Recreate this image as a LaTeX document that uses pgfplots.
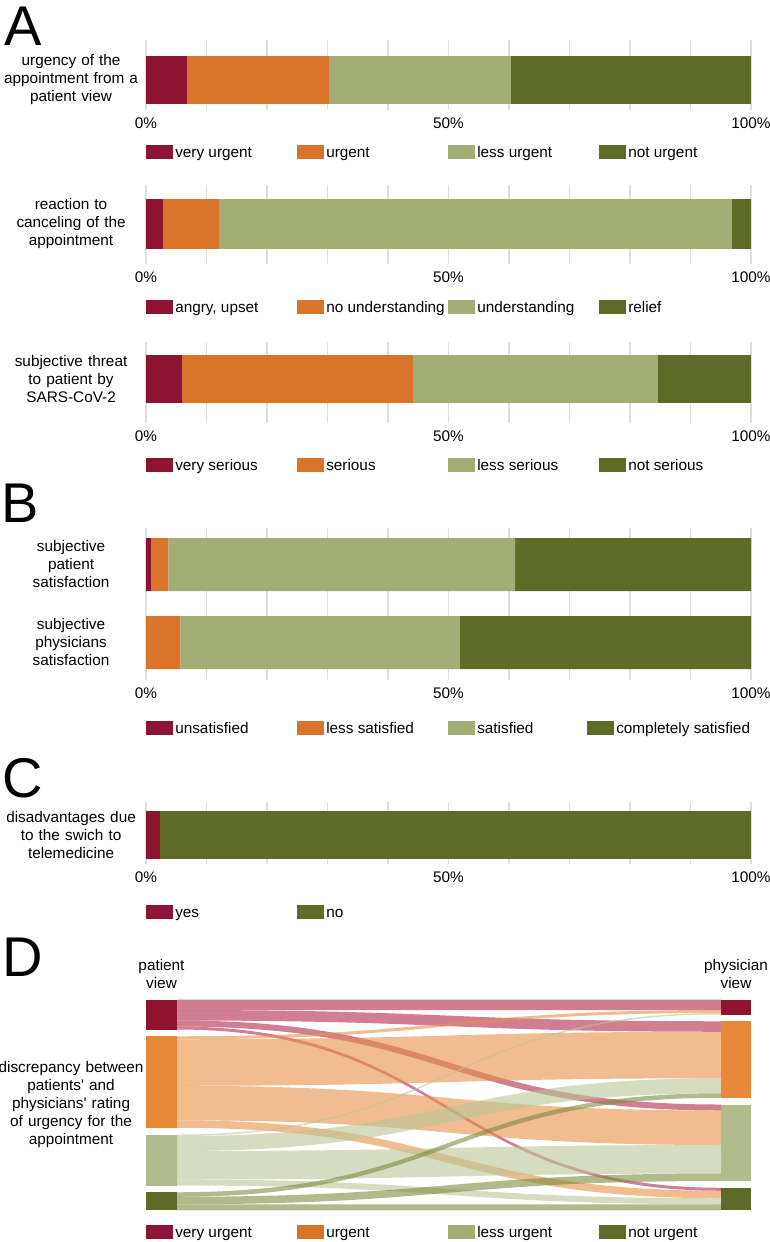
\documentclass[border=0pt]{standalone}
\usepackage{fontspec}
\setmainfont{Liberation Sans}
\usepackage{pgfplots}
\pgfplotsset{compat=1.18}

% bar colours
\definecolor{cvu}{RGB}{140,20,50}
\definecolor{cur}{RGB}{216,117,43}
\definecolor{clu}{RGB}{163,174,119}
\definecolor{cnu}{RGB}{93,107,39}
% alluvial nodes
\definecolor{dvu}{RGB}{142,20,48}
\definecolor{dur}{RGB}{232,137,58}
\definecolor{dlu}{RGB}{176,188,142}
\definecolor{dnu}{RGB}{92,107,38}
% alluvial flows (drawn with opacity)
\definecolor{fvu}{RGB}{180,40,73}
\definecolor{fur}{RGB}{230,143,70}
\definecolor{flu}{RGB}{185,197,150}
\definecolor{fnu}{RGB}{123,140,63}

\newcommand{\txt}{\fontsize{11.5}{13.5}\selectfont}
\newcommand{\lgd}[2][90pt]{\makebox[#1][l]{\strut #2}}
% flow band: colour, left top, left bottom, right top, right bottom
\newcommand{\flow}[5]{%
  \fill[#1, fill opacity=0.6] (axis cs:177,#2) .. controls (axis cs:449,#2) and (axis cs:449,#4) .. (axis cs:721,#4)
    -- (axis cs:721,#5) .. controls (axis cs:449,#5) and (axis cs:449,#3) .. (axis cs:177,#3) -- cycle;}

\pgfplotsset{
  sq/.style={legend image code/.code={\fill[##1] (0pt,-5.25pt) rectangle (20.25pt,5.25pt);}},
  common/.style={
    scale only axis, width=453.75pt, anchor=north west, y dir=reverse,
    axis line style={draw=none}, tick style={draw=none},
    tick label style={font=\txt},
    yticklabel style={anchor=east, align=center, text width=110pt, inner sep=0pt, xshift=-1pt},
    legend columns=4, legend cell align=left,
    legend image code/.code={\fill[##1] (0pt,-5.25pt) rectangle (20.25pt,5.25pt);},
    legend style={draw=none, fill=none, inner sep=0pt, anchor=west, font=\txt,
      nodes={inner sep=1.5pt}, /tikz/every even column/.append style={column sep=0pt}},
    every axis plot/.append style={draw=none},
  },
  panel/.style={
    common, xmin=0, xmax=100, xbar stacked,
    xtick={0,10,...,100}, xticklabels={0\%,,,,,50\%,,,,,100\%},
    xmajorgrids, major grid style={draw=black!13, line width=1.1pt},
    xticklabel style={anchor=center, yshift=-9.75pt, inner sep=0pt},
  },
}

\begin{document}
\begin{tikzpicture}[font=\txt]
\useasboundingbox (0pt,0pt) rectangle (577.5pt,-931.5pt);

\node[anchor=base west, inner sep=0pt, font=\fontsize{42}{42}\selectfont] at (3pt,-33.75pt) {A};
\node[anchor=base west, inner sep=0pt, font=\fontsize{42}{42}\selectfont] at (1pt,-391.5pt) {B};
\node[anchor=base west, inner sep=0pt, font=\fontsize{42}{42}\selectfont] at (2pt,-597.75pt) {C};
\node[anchor=base west, inner sep=0pt, font=\fontsize{42}{42}\selectfont] at (2pt,-732pt) {D};

% A1 urgency from patient view
\begin{axis}[panel, at={(109.5pt,-30pt)}, height=52.5pt,
  ymin=40, ymax=110, bar width=48, ytick={80},
  yticklabels={{urgency of the\\appointment from a\\patient view}},
  legend style={at={(axis cs:0,152)}}]
\addplot[fill=cvu, sq] coordinates {(6.7,80)}; \addlegendentry{\lgd{very urgent}}
\addplot[fill=cur, sq] coordinates {(23.6,80)}; \addlegendentry{\lgd{urgent}}
\addplot[fill=clu, sq] coordinates {(30.1,80)}; \addlegendentry{\lgd{less urgent}}
\addplot[fill=cnu, sq] coordinates {(39.6,80)}; \addlegendentry{\lgd{not urgent}}
\end{axis}

% A2 reaction to cancelling
\begin{axis}[panel, at={(109.5pt,-138.75pt)}, height=59.25pt,
  ymin=185, ymax=264, bar width=50, ytick={224},
  yticklabels={{reaction to\\canceling of the\\appointment}},
  legend style={at={(axis cs:0,307)}}]
\addplot[fill=cvu, sq] coordinates {(2.8,224)}; \addlegendentry{\lgd{angry, upset}}
\addplot[fill=cur, sq] coordinates {(9.3,224)}; \addlegendentry{\lgd{no understanding}}
\addplot[fill=clu, sq] coordinates {(84.8,224)}; \addlegendentry{\lgd{understanding}}
\addplot[fill=cnu, sq] coordinates {(3.1,224)}; \addlegendentry{\lgd{relief}}
\end{axis}

% A3 threat by SARS-CoV-2
\begin{axis}[panel, at={(109.5pt,-256.5pt)}, height=60.75pt,
  ymin=342, ymax=423, bar width=48, ytick={379},
  yticklabels={{subjective threat\\to patient by\\SARS-CoV-2}},
  legend style={at={(axis cs:0,465)}}]
\addplot[fill=cvu, sq] coordinates {(6.0,379)}; \addlegendentry{\lgd{very serious}}
\addplot[fill=cur, sq] coordinates {(38.2,379)}; \addlegendentry{\lgd{serious}}
\addplot[fill=clu, sq] coordinates {(40.5,379)}; \addlegendentry{\lgd{less serious}}
\addplot[fill=cnu, sq] coordinates {(15.3,379)}; \addlegendentry{\lgd{not serious}}
\end{axis}

% B satisfaction
\begin{axis}[panel, at={(109.5pt,-396pt)}, height=114pt,
  ymin=528, ymax=680, bar width=53, ytick={564.5,642.5},
  yticklabels={{subjective\\patient\\satisfaction},{subjective\\physicians\\satisfaction}},
  legend style={at={(axis cs:0,728)}}]
\addplot[fill=cvu, sq] coordinates {(0.8,564.5) (0,642.5)}; \addlegendentry{\lgd{unsatisfied}}
\addplot[fill=cur, sq] coordinates {(2.9,564.5) (5.7,642.5)}; \addlegendentry{\lgd{less satisfied}}
\addplot[fill=clu, sq] coordinates {(57.3,564.5) (46.2,642.5)}; \addlegendentry{\lgd[81pt]{satisfied}}
\addplot[fill=cnu, sq] coordinates {(39.0,564.5) (48.1,642.5)}; \addlegendentry{\lgd{completely satisfied}}
\end{axis}

% C disadvantages
\begin{axis}[panel, at={(109.5pt,-601.5pt)}, height=46.5pt,
  ymin=802, ymax=864, bar width=48, ytick={835},
  yticklabels={{disadvantages due\\to the swich to\\telemedicine}},
  legend style={at={(axis cs:0,912)}}]
\addplot[fill=cvu, sq] coordinates {(2.3,835)}; \addlegendentry{\lgd{yes}}
\addplot[fill=cnu, sq] coordinates {(97.7,835)}; \addlegendentry{\lgd{no}}
\end{axis}

% D alluvial patient vs physician rating
\begin{axis}[common, at={(109.5pt,-749.625pt)}, height=158.0625pt,
  xmin=146, xmax=751, ymin=0, ymax=140.5, clip=false, no markers,
  xtick=\empty, ytick={69.7},
  yticklabels={{discrepancy between\\patients\textquotesingle\ and\\physicians\textquotesingle\ rating\\of urgency for the\\appointment}},
  legend style={at={(axis cs:146,155)}}]
\addlegendimage{fill=cvu, draw=none} \addlegendentry{\lgd{very urgent}}
\addlegendimage{fill=cur, draw=none} \addlegendentry{\lgd{urgent}}
\addlegendimage{fill=clu, draw=none} \addlegendentry{\lgd{less urgent}}
\addlegendimage{fill=cnu, draw=none} \addlegendentry{\lgd{not urgent}}
% flows
\flow{fvu}{0}{7}{0}{7}
\flow{fvu}{7}{14}{14.5}{21.5}
\flow{fvu}{14}{18}{70}{74}
\flow{fvu}{18}{20}{125.5}{127.5}
\flow{fur}{24.5}{26.5}{7}{9}
\flow{fur}{26.5}{57.5}{21.5}{52.5}
\flow{fur}{57.5}{80.5}{74}{97}
\flow{fur}{80.5}{85.5}{127.5}{132.5}
\flow{flu}{90}{91}{9}{10}
\flow{flu}{91}{101}{52.5}{62.5}
\flow{flu}{101}{120}{97}{116}
\flow{flu}{120}{124}{132.5}{136.5}
\flow{fnu}{128.5}{131.5}{62.5}{65.5}
\flow{fnu}{131.5}{136.5}{116}{121}
\flow{fnu}{136.5}{140.5}{136.5}{140.5}
% strata, patient view
\addplot[fill=dvu, forget plot] coordinates {(146,0) (177,0) (177,20) (146,20)};
\addplot[fill=dur, forget plot] coordinates {(146,24.5) (177,24.5) (177,85.5) (146,85.5)};
\addplot[fill=dlu, forget plot] coordinates {(146,90) (177,90) (177,124) (146,124)};
\addplot[fill=dnu, forget plot] coordinates {(146,128.5) (177,128.5) (177,140.5) (146,140.5)};
% strata, physician view
\addplot[fill=dvu, forget plot] coordinates {(721,0) (751,0) (751,10) (721,10)};
\addplot[fill=dur, forget plot] coordinates {(721,14.5) (751,14.5) (751,65.5) (721,65.5)};
\addplot[fill=dlu, forget plot] coordinates {(721,70) (751,70) (751,121) (721,121)};
\addplot[fill=dnu, forget plot] coordinates {(721,125.5) (751,125.5) (751,140.5) (721,140.5)};
\node[align=center, inner sep=0pt] at (axis cs:161.5,-17) {patient\\view};
\node[align=center, inner sep=0pt] at (axis cs:736,-17) {physician\\view};
\end{axis}
\end{tikzpicture}
\end{document}
